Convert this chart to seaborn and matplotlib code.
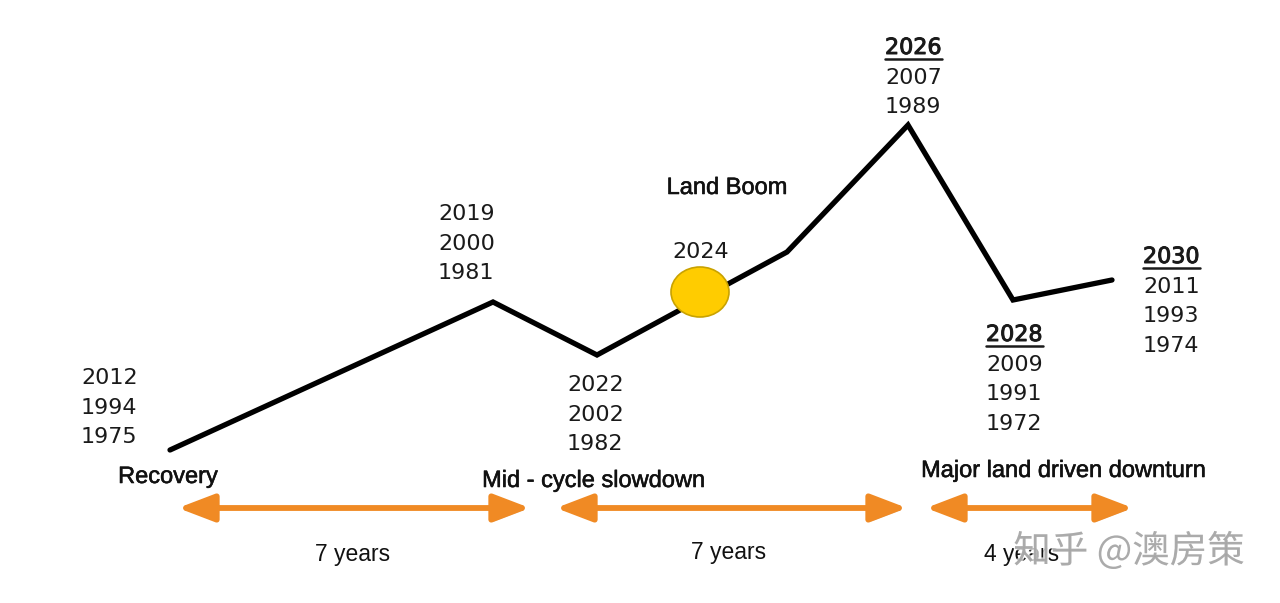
import matplotlib
matplotlib.use('Agg')
import matplotlib.pyplot as plt
import matplotlib.patheffects as pe
from matplotlib.patches import Ellipse, FancyArrowPatch
import seaborn as sns
import pandas as pd

# cycle line (positions on a 1280 x 603 canvas, y grows downward)
cycle_x = [170, 493, 597, 787, 908, 1013, 1112]
cycle_y = [450, 302, 355, 252, 125, 300, 280]

# year groups: left x, first line y, years, whether first year is underlined
groups = [
    (81, 378, ['2012', '1994', '1975'], False),
    (438, 214, ['2019', '2000', '1981'], False),
    (567, 385, ['2022', '2002', '1982'], False),
    (672, 252, ['2024'], False),
    (885, 48, ['2026', '2007', '1989'], True),
    (986, 335, ['2028', '2009', '1991', '1972'], True),
    (1143, 257, ['2030', '2011', '1993', '1974'], True),
]

phases = [('Recovery', 168, 477), ('Mid - cycle slowdown', 594, 481),
          ('Major land driven downturn', 1064, 471), ('Land Boom', 727, 188)]

arrows = [(178, 530), (556, 907), (926, 1133)]
durations = [('7 years', 353, 555), ('7 years', 729, 553), ('4 years', 1022, 555)]

sns.set_theme(style='white')
plt.rcParams['font.family'] = ['DejaVu Sans', 'Noto Sans CJK SC']

fig = plt.figure(figsize=(12.8, 6.03), dpi=100)
ax = fig.add_axes([0, 0, 1, 1])

df = pd.DataFrame({'x': cycle_x, 'y': cycle_y})
sns.lineplot(data=df, x='x', y='y', sort=False, color='black', linewidth=3.8,
             ax=ax, solid_joinstyle='miter')
ax.set_xlim(0, 1280)
ax.set_ylim(603, 0)
ax.axis('off')

ax.add_patch(Ellipse((700, 292), 58, 50, facecolor='#FFCC00',
                     edgecolor='#C9A200', linewidth=1.2, zorder=5))

num_color = '#1a1a1a'
for x0, y0, years, under in groups:
    for i, yr in enumerate(years):
        yy = y0 + i * 29.6
        t = ax.text(x0, yy, yr, fontsize=16, ha='left', va='center',
                    color=num_color)
        if under and i == 0:
            t.set_path_effects([pe.withStroke(linewidth=0.7, foreground=num_color)])
            ax.plot([x0, x0 + 57], [yy + 11, yy + 11], color=num_color,
                    linewidth=1.8)

for label, x0, y0 in phases:
    ax.text(x0, y0, label, fontsize=17, ha='center', va='center',
            color='#111111', family='Liberation Sans',
            path_effects=[pe.withStroke(linewidth=0.4, foreground='#111111')])

for a, b in arrows:
    arr = FancyArrowPatch((a, 508), (b, 508),
                          arrowstyle='<|-|>,head_length=1.1,head_width=0.42',
                          mutation_scale=20, color='#F08A24', linewidth=4.2,
                          shrinkA=0, shrinkB=0,
                          path_effects=[pe.SimplePatchShadow(offset=(1.5, -1.5), alpha=0.25),
                                        pe.Normal()])
    ax.add_patch(arr)

for label, x0, y0 in durations:
    ax.text(x0, y0, label, fontsize=16.5, ha='center', va='center',
            color='#111111', family='Liberation Sans')

ax.text(1129, 552, '知乎 @澳房策', fontsize=27, ha='center', va='center',
        color='#a0a0a0', alpha=0.85, family=['Noto Sans CJK SC', 'DejaVu Sans'],
        path_effects=[pe.withStroke(linewidth=2, foreground='white', alpha=0.7)])

fig.savefig('out.png', dpi=100, facecolor='white')
